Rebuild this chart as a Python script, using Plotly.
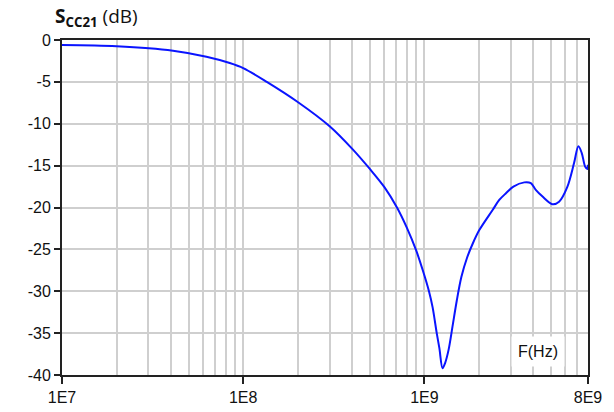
import math
import plotly.graph_objects as go

freq_hz = [1.0e7, 2.0e7, 4.1e7, 6.27e7, 8.43e7, 1.0e8, 1.35e8, 2.0e8, 3.0e8, 4.0e8,
           5.0e8, 6.03e8, 7.06e8, 8.0e8, 9.0e8, 9.8e8, 1.06e9, 1.11e9, 1.17e9,
           1.21e9, 1.26e9, 1.30e9, 1.36e9, 1.43e9, 1.51e9, 1.60e9, 1.72e9, 1.85e9,
           2.01e9, 2.38e9, 2.59e9, 2.82e9, 3.1e9, 3.56e9, 3.87e9, 4.12e9, 4.49e9,
           5.09e9, 5.54e9, 6.16e9, 6.70e9, 7.08e9, 7.39e9, 7.71e9, 7.94e9, 8.0e9]
s_cc21_db = [-0.6, -0.75, -1.28, -2.0, -2.75, -3.35, -5.0, -7.4, -10.3, -13.0,
             -15.4, -17.6, -20.0, -22.4, -25.1, -27.5, -30.0, -31.9, -35.0,
             -36.8, -39.2, -38.6, -37.0, -34.2, -31.1, -28.3, -26.0, -24.3,
             -22.7, -20.3, -19.1, -18.3, -17.5, -17.0, -17.1, -17.9, -18.7,
             -19.6, -19.3, -17.5, -14.7, -12.7, -13.5, -15.1, -15.4, -14.9]

x_tick_vals = [1e7, 1e8, 1e9, 8e9]
x_tick_text = ["1E7", "1E8", "1E9", "8E9"]
y_tick_vals = [0, -5, -10, -15, -20, -25, -30, -35, -40]
y_tick_text = ["0", "-5", "-10", "-15", "-20", "-25", "-30", "-35", "-40"]

minor_vals = [m * 10 ** e for e in (7, 8, 9) for m in range(2, 10) if m * 10 ** e <= 8e9]

fig = go.Figure()
fig.add_trace(go.Scatter(
    x=freq_hz, y=s_cc21_db, mode="lines",
    line=dict(color="#0a14ff", width=2, shape="spline", smoothing=0.9),
    hoverinfo="skip", showlegend=False,
))

font_ticks = dict(family="Liberation Sans, Arial, sans-serif", size=16, color="#111")

fig.update_layout(
    width=614, height=412,
    margin=dict(l=62, r=26, t=40, b=37),
    paper_bgcolor="white", plot_bgcolor="white",
    xaxis=dict(
        type="log", range=[7, math.log10(8e9)], automargin=False,
        tickmode="array", tickvals=x_tick_vals, ticktext=x_tick_text,
        ticks="outside", ticklen=7, tickwidth=1.5, tickcolor="#222",
        showgrid=True, gridcolor="#cfcfcf", gridwidth=1.5,
        minor=dict(tickmode="array", tickvals=minor_vals, showgrid=True,
                   gridcolor="#cfcfcf", gridwidth=1.5, ticks=""),
        showline=True, linecolor="#222", linewidth=2, mirror=True,
        tickfont=font_ticks, zeroline=False,
    ),
    yaxis=dict(
        range=[-40, 0], automargin=False,
        tickmode="array", tickvals=y_tick_vals, ticktext=y_tick_text,
        ticks="outside", ticklen=6, tickwidth=1.5, tickcolor="#222",
        showgrid=True, gridcolor="#cfcfcf", gridwidth=1.5,
        showline=True, linecolor="#222", linewidth=2, mirror=True,
        tickfont=font_ticks, zeroline=False,
    ),
    annotations=[
        dict(xref="paper", yref="paper", x=-0.017, y=1.0, yshift=23,
             xanchor="left", yanchor="middle", showarrow=False,
             text="<b>S</b><sub><b>CC21</b></sub> (dB)",
             font=dict(family="Open Sans, sans-serif", size=19, color="#111")),
        dict(xref="paper", yref="paper", x=0.905, y=0.07,
             xanchor="center", yanchor="middle", showarrow=False,
             text="F(Hz)", bgcolor="white", borderpad=6,
             font=dict(family="Liberation Sans, Arial, sans-serif", size=16, color="#111")),
    ],
)

fig.write_html("out.html", config={"displayModeBar": False},
               post_script="document.body.style.margin='0';")
